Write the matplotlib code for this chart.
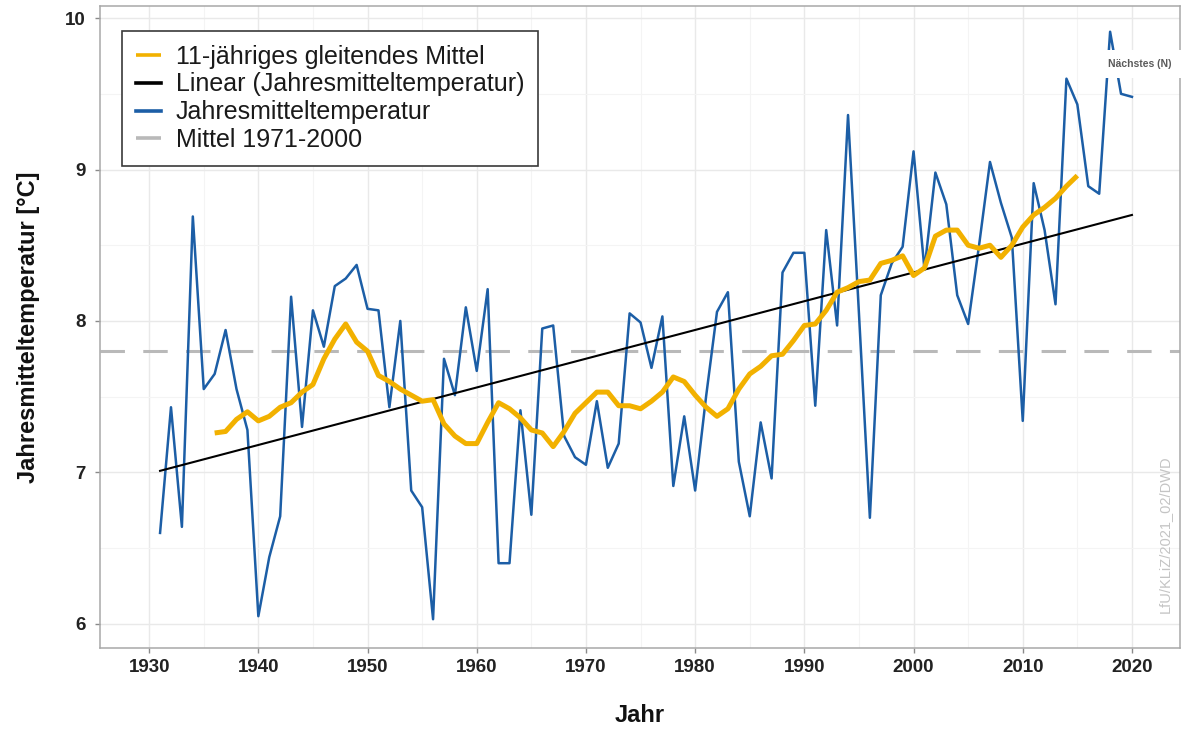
import matplotlib
matplotlib.use("Agg")
import matplotlib.pyplot as plt
from matplotlib.ticker import MultipleLocator

plt.rcParams['font.family'] = ['Liberation Sans', 'DejaVu Sans']

# ---------------- data ----------------
years = list(range(1931, 2021))
temps = [6.60, 7.43, 6.64, 8.69, 7.55, 7.65, 7.94, 7.55, 7.28, 6.05,
         6.44, 6.71, 8.16, 7.30, 8.07, 7.83, 8.23, 8.28, 8.37, 8.08,
         8.07, 7.43, 8.00, 6.88, 6.77, 6.03, 7.75, 7.51, 8.09, 7.67,
         8.21, 6.40, 6.40, 7.41, 6.72, 7.95, 7.97, 7.24, 7.10, 7.05,
         7.47, 7.03, 7.19, 8.05, 7.99, 7.69, 8.03, 6.91, 7.37, 6.88,
         7.50, 8.06, 8.19, 7.07, 6.71, 7.33, 6.96, 8.32, 8.45, 8.45,
         7.44, 8.60, 7.97, 9.36, 8.05, 6.70, 8.17, 8.38, 8.49, 9.12,
         8.34, 8.98, 8.77, 8.17, 7.98, 8.50, 9.05, 8.78, 8.55, 7.34,
         8.91, 8.60, 8.11, 9.60, 9.43, 8.89, 8.84, 9.91, 9.50, 9.48]

ma_years = list(range(1936, 2016))
ma_values = [7.26, 7.27, 7.35, 7.40, 7.34, 7.37, 7.43, 7.46, 7.53, 7.58,
             7.75, 7.88, 7.98, 7.86, 7.80, 7.64, 7.60, 7.55, 7.51, 7.47,
             7.48, 7.32, 7.24, 7.19, 7.19, 7.33, 7.46, 7.42, 7.36, 7.28,
             7.26, 7.17, 7.27, 7.39, 7.46, 7.53, 7.53, 7.44, 7.44, 7.42,
             7.47, 7.53, 7.63, 7.60, 7.51, 7.43, 7.37, 7.42, 7.55, 7.65,
             7.70, 7.77, 7.78, 7.87, 7.97, 7.98, 8.07, 8.19, 8.22, 8.26,
             8.27, 8.38, 8.40, 8.43, 8.30, 8.35, 8.56, 8.60, 8.60, 8.50,
             8.48, 8.50, 8.42, 8.50, 8.62, 8.70, 8.75, 8.81, 8.89, 8.96]

trend_years = [1931, 2020]
trend_values = [7.01, 8.70]

ref_mean = 7.8

x_ticks = [1930, 1940, 1950, 1960, 1970, 1980, 1990, 2000, 2010, 2020]
y_ticks = [6, 7, 8, 9, 10]

labels = ['11-jähriges gleitendes Mittel', 'Linear (Jahresmitteltemperatur)',
          'Jahresmitteltemperatur', 'Mittel 1971-2000']

# ---------------- figure ----------------
W, H = 1184, 733
fig = plt.figure(figsize=(W / 100, H / 100), dpi=100)
ax = fig.add_axes([100 / W, 1 - 648 / H, 1080 / W, 642 / H])

c_yellow = '#f2b100'
c_blue = '#1c5ea6'
c_gray = '#b9b9b9'

ax.plot(ma_years, ma_values, color=c_yellow, lw=3.6, zorder=5,
        solid_capstyle='butt', label=labels[0])
ax.plot(trend_years, trend_values, color='black', lw=1.5, zorder=4,
        label=labels[1])
ax.plot(years, temps, color=c_blue, lw=1.8, zorder=3, label=labels[2])
ax.axhline(ref_mean, color=c_gray, lw=2.2, dashes=(8, 6), zorder=2,
           label=labels[3])

ax.set_xlim(1925.5, 2024.4)
ax.set_ylim(5.84, 10.08)
ax.set_xticks(x_ticks)
ax.set_yticks(y_ticks)
ax.xaxis.set_minor_locator(MultipleLocator(5))
ax.yaxis.set_minor_locator(MultipleLocator(0.5))

ax.grid(which='major', color='#e9e9e9', lw=1.0, zorder=0)
ax.grid(which='minor', color='#f4f4f4', lw=0.8, zorder=0)
ax.set_axisbelow(True)

for s in ax.spines.values():
    s.set_color('#a8a8a8')
    s.set_linewidth(1.1)

ax.tick_params(axis='both', which='major', direction='out', length=3.6,
               width=1, color='#8a8a8a', labelsize=13.5, labelcolor='#222222')
ax.tick_params(axis='x', which='major', pad=4.5)
ax.tick_params(axis='y', which='major', pad=6.5)
ax.tick_params(which='minor', length=0)
for lab in ax.get_xticklabels() + ax.get_yticklabels():
    lab.set_fontweight('bold')

ax.set_xlabel('Jahr', fontsize=17, fontweight='bold', color='#111111')
ax.set_ylabel('Jahresmitteltemperatur [°C]', fontsize=17, fontweight='bold',
              color='#111111')
ax.xaxis.set_label_coords(0.5, -0.088)
ax.yaxis.set_label_coords(-0.0556, 0.5)

leg = ax.legend(loc='upper left', bbox_to_anchor=(22 / 1080, 1 - 25 / 642),
                borderaxespad=0, fontsize=18, handlelength=1.0,
                handletextpad=0.6, labelspacing=0.15, borderpad=0.55,
                fancybox=False, framealpha=1, edgecolor='#3a3a3a')
leg.get_frame().set_linewidth(1.2)
for t in leg.get_texts():
    t.set_color('#1a1a1a')
for h in leg.legend_handles:
    h.set_linewidth(2.6)

# watermark / source
fig.text(1165 / W, 1 - 613 / H, 'LfU/KLiZ/2021_02/DWD', rotation=90,
         ha='center', va='bottom', fontsize=10.5, color='#c4c4c4')

# tooltip artifact
fig.text(1108 / W, 1 - 64 / H, 'Nächstes (N)', ha='left', va='center',
         fontsize=7.5, fontweight='bold', color='#5a5a5a',
         bbox=dict(boxstyle='square,pad=0.9', fc='white', ec='none'))

fig.savefig('out.png', dpi=100)
